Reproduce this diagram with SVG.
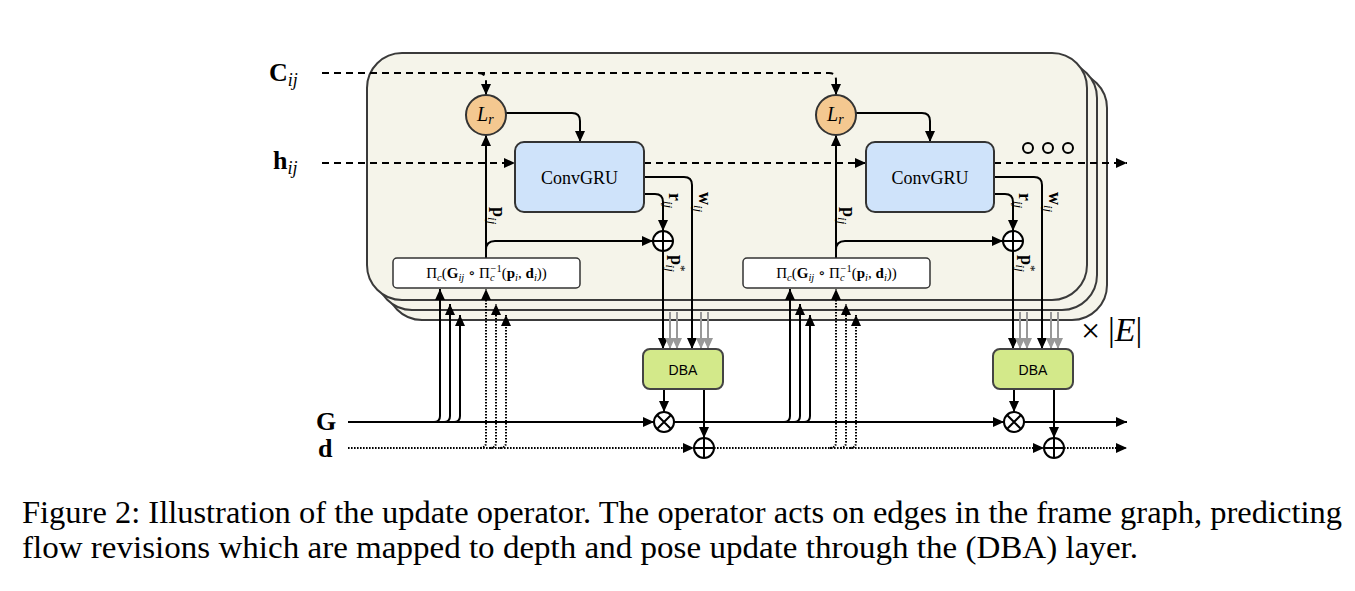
<svg xmlns="http://www.w3.org/2000/svg" width="1355" height="591" viewBox="0 0 1355 591">
<style>
.frame{fill:#f5f4ea;stroke:#3a3a3a;stroke-width:2}
.ln{fill:none;stroke:#000;stroke-width:2}
.dash{fill:none;stroke:#000;stroke-width:2;stroke-dasharray:7 5}
.dot{fill:none;stroke:#000;stroke-width:2;stroke-dasharray:1.6 1.4}
.gray{fill:none;stroke:#999;stroke-width:2}
.math{font-family:"Liberation Serif","DejaVu Serif",serif;fill:#000}
.lr{fill:#f4c890;stroke:#333;stroke-width:2}
.gru{fill:#cfe3fa;stroke:#333;stroke-width:2}
.dba{fill:#d3e98a;stroke:#444;stroke-width:2}
.proj{fill:#fff;stroke:#333;stroke-width:1.5}
.op{fill:#fff;stroke:#000;stroke-width:2}
.sans{font-family:"Liberation Sans",Arial,sans-serif;fill:#000}
</style>
<defs>
<marker id="ah" markerUnits="userSpaceOnUse" markerWidth="11" markerHeight="10" refX="11" refY="5" orient="auto"><path d="M0,0 L11,5 L0,10 z" fill="#000"/></marker>
<marker id="ahg" markerUnits="userSpaceOnUse" markerWidth="11" markerHeight="10" refX="11" refY="5" orient="auto"><path d="M0,0 L11,5 L0,10 z" fill="#999"/></marker>
</defs>

<g id="frames">
<rect class="frame" x="387" y="73" width="720" height="247" rx="35"/>
<rect class="frame" x="377" y="63" width="720" height="247" rx="35"/>
<rect class="frame" x="367" y="53" width="720" height="247" rx="35"/>
</g>

<g id="inputs">
<text class="math" x="269" y="81" font-size="26" font-weight="bold">C<tspan font-size="18" font-style="italic" font-weight="normal" dy="5">ij</tspan></text>
<text class="math" x="273" y="169" font-size="26" font-weight="bold">h<tspan font-size="18" font-style="italic" font-weight="normal" dy="5">ij</tspan></text>
<text class="math" x="316" y="430" font-size="26" font-weight="bold">G</text>
<text class="math" x="318" y="457" font-size="26" font-weight="bold">d</text>
</g>

<g id="connectors">
<!-- C_ij -->
<path class="dash" d="M322,73 H829 Q836,73 836,80 V95" marker-end="url(#ah)"/>
<path class="dash" d="M478,73 Q486,73 486,81 V95" marker-end="url(#ah)"/>
<!-- h_ij -->
<path class="dash" d="M322,163 H515" marker-end="url(#ah)"/>
<path class="dash" d="M644,163 H866" marker-end="url(#ah)"/>
<path class="dash" d="M994,163 H1127" marker-end="url(#ah)"/>
<!-- stage 1 -->
<path class="ln" d="M506,113 H572 Q580,113 580,121 V142" marker-end="url(#ah)"/>
<path class="ln" d="M486,258 V135" marker-end="url(#ah)"/>
<path class="ln" d="M486,250 Q486,241 495,241 H653" marker-end="url(#ah)"/>
<path class="ln" d="M644,177 H684 Q692,177 692,185 V349" marker-end="url(#ah)"/>
<path class="ln" d="M644,194 H655 Q663,194 663,202 V231" marker-end="url(#ah)"/>
<path class="ln" d="M663,251 V349" marker-end="url(#ah)"/>
<path class="gray" d="M670,312 V349" marker-end="url(#ahg)"/>
<path class="gray" d="M677,312 V349" marker-end="url(#ahg)"/>
<path class="gray" d="M701,312 V349" marker-end="url(#ahg)"/>
<path class="gray" d="M708,312 V349" marker-end="url(#ahg)"/>
<path class="ln" d="M664,389 V412" marker-end="url(#ah)"/>
<path class="ln" d="M704,389 V438" marker-end="url(#ah)"/>
<path class="ln" d="M434,422 Q440,422 440,416 V289" marker-end="url(#ah)"/>
<path class="ln" d="M444,422 Q450,422 450,416 V304" marker-end="url(#ah)"/>
<path class="ln" d="M454,422 Q460,422 460,416 V315" marker-end="url(#ah)"/>
<path class="dot" d="M480,448 Q486,448 486,442 V289" marker-end="url(#ah)"/>
<path class="dot" d="M490,448 Q496,448 496,442 V304" marker-end="url(#ah)"/>
<path class="dot" d="M500,448 Q506,448 506,442 V315" marker-end="url(#ah)"/>
<!-- stage 2 -->
<path class="ln" d="M856,113 H922 Q930,113 930,121 V142" marker-end="url(#ah)"/>
<path class="ln" d="M836,258 V135" marker-end="url(#ah)"/>
<path class="ln" d="M836,250 Q836,241 845,241 H1003" marker-end="url(#ah)"/>
<path class="ln" d="M994,177 H1034 Q1042,177 1042,185 V349" marker-end="url(#ah)"/>
<path class="ln" d="M994,194 H1005 Q1013,194 1013,202 V231" marker-end="url(#ah)"/>
<path class="ln" d="M1013,251 V349" marker-end="url(#ah)"/>
<path class="gray" d="M1020,312 V349" marker-end="url(#ahg)"/>
<path class="gray" d="M1027,312 V349" marker-end="url(#ahg)"/>
<path class="gray" d="M1051,312 V349" marker-end="url(#ahg)"/>
<path class="gray" d="M1058,312 V349" marker-end="url(#ahg)"/>
<path class="ln" d="M1014,389 V412" marker-end="url(#ah)"/>
<path class="ln" d="M1054,389 V438" marker-end="url(#ah)"/>
<path class="ln" d="M784,422 Q790,422 790,416 V289" marker-end="url(#ah)"/>
<path class="ln" d="M794,422 Q800,422 800,416 V304" marker-end="url(#ah)"/>
<path class="ln" d="M804,422 Q810,422 810,416 V315" marker-end="url(#ah)"/>
<path class="dot" d="M830,448 Q836,448 836,442 V289" marker-end="url(#ah)"/>
<path class="dot" d="M840,448 Q846,448 846,442 V304" marker-end="url(#ah)"/>
<path class="dot" d="M850,448 Q856,448 856,442 V315" marker-end="url(#ah)"/>
<!-- G and d trunks -->
<path class="ln" d="M348,422 H654" marker-end="url(#ah)"/>
<path class="ln" d="M674,422 H1004" marker-end="url(#ah)"/>
<path class="ln" d="M1024,422 H1127" marker-end="url(#ah)"/>
<path class="dot" d="M348,448 H694" marker-end="url(#ah)"/>
<path class="dot" d="M714,448 H1044" marker-end="url(#ah)"/>
<path class="dot" d="M1064,448 H1127" marker-end="url(#ah)"/>
</g>

<g id="lr1"><circle class="lr" cx="486" cy="115" r="20"/><text class="math" x="477" y="121" font-size="20" font-style="italic">L<tspan font-size="14" dy="3">r</tspan></text></g>
<g id="lr2"><circle class="lr" cx="836" cy="115" r="20"/><text class="math" x="827" y="121" font-size="20" font-style="italic">L<tspan font-size="14" dy="3">r</tspan></text></g>

<g id="gru1"><rect class="gru" x="515" y="142" width="129" height="70" rx="9"/><text class="math" x="579.5" y="184" font-size="18" text-anchor="middle">ConvGRU</text></g>
<g id="gru2"><rect class="gru" x="866" y="142" width="128" height="70" rx="9"/><text class="math" x="930" y="184" font-size="18" text-anchor="middle">ConvGRU</text></g>

<g id="proj1"><rect class="proj" x="393" y="258" width="187" height="30" rx="4"/>
<text class="math" x="486.5" y="278" font-size="15" text-anchor="middle">Π<tspan font-size="10.5" font-style="italic" dy="3">c</tspan><tspan dy="-3">(</tspan><tspan font-weight="bold">G</tspan><tspan font-size="10.5" font-style="italic" dy="3">ij</tspan><tspan dy="-3"> ∘ Π</tspan><tspan font-size="10.5" font-style="italic" dy="3">c</tspan><tspan font-size="10.5" dx="-4" dy="-9">−1</tspan><tspan dy="6">(</tspan><tspan font-weight="bold">p</tspan><tspan font-size="10.5" font-style="italic" dy="3">i</tspan><tspan dy="-3">, </tspan><tspan font-weight="bold">d</tspan><tspan font-size="10.5" font-style="italic" dy="3">i</tspan><tspan dy="-3">))</tspan></text></g>
<g id="proj2"><rect class="proj" x="743" y="258" width="187" height="30" rx="4"/>
<text class="math" x="836.5" y="278" font-size="15" text-anchor="middle">Π<tspan font-size="10.5" font-style="italic" dy="3">c</tspan><tspan dy="-3">(</tspan><tspan font-weight="bold">G</tspan><tspan font-size="10.5" font-style="italic" dy="3">ij</tspan><tspan dy="-3"> ∘ Π</tspan><tspan font-size="10.5" font-style="italic" dy="3">c</tspan><tspan font-size="10.5" dx="-4" dy="-9">−1</tspan><tspan dy="6">(</tspan><tspan font-weight="bold">p</tspan><tspan font-size="10.5" font-style="italic" dy="3">i</tspan><tspan dy="-3">, </tspan><tspan font-weight="bold">d</tspan><tspan font-size="10.5" font-style="italic" dy="3">i</tspan><tspan dy="-3">))</tspan></text></g>

<g id="labels">
<text class="math" transform="translate(493,207) rotate(90)" font-size="18" font-weight="bold">p<tspan font-size="13" font-style="italic" font-weight="normal" dy="5">ij</tspan></text>
<text class="math" transform="translate(669,193) rotate(90)" font-size="18" font-weight="bold">r<tspan font-size="13" font-style="italic" font-weight="normal" dy="5">ij</tspan></text>
<text class="math" transform="translate(699,192) rotate(90)" font-size="18" font-weight="bold">w<tspan font-size="13" font-style="italic" font-weight="normal" dy="5">ij</tspan></text>
<text class="math" transform="translate(671,255) rotate(90)" font-size="18" font-weight="bold">p<tspan font-size="13" font-weight="normal" dy="-6">*</tspan><tspan font-size="13" font-style="italic" font-weight="normal" dx="-7" dy="11">ij</tspan></text>
<text class="math" transform="translate(843,207) rotate(90)" font-size="18" font-weight="bold">p<tspan font-size="13" font-style="italic" font-weight="normal" dy="5">ij</tspan></text>
<text class="math" transform="translate(1019,193) rotate(90)" font-size="18" font-weight="bold">r<tspan font-size="13" font-style="italic" font-weight="normal" dy="5">ij</tspan></text>
<text class="math" transform="translate(1049,192) rotate(90)" font-size="18" font-weight="bold">w<tspan font-size="13" font-style="italic" font-weight="normal" dy="5">ij</tspan></text>
<text class="math" transform="translate(1021,255) rotate(90)" font-size="18" font-weight="bold">p<tspan font-size="13" font-weight="normal" dy="-6">*</tspan><tspan font-size="13" font-style="italic" font-weight="normal" dx="-7" dy="11">ij</tspan></text>
</g>

<g id="ops">
<g id="plus1"><circle class="op" cx="663" cy="241" r="10"/><path class="ln" d="M653,241 H673 M663,231 V251"/></g>
<g id="plus2"><circle class="op" cx="1013" cy="241" r="10"/><path class="ln" d="M1003,241 H1023 M1013,231 V251"/></g>
<g id="times1"><circle class="op" cx="664" cy="422" r="10"/><path class="ln" d="M657,415 L671,429 M671,415 L657,429"/></g>
<g id="times2"><circle class="op" cx="1014" cy="422" r="10"/><path class="ln" d="M1007,415 L1021,429 M1021,415 L1007,429"/></g>
<g id="dplus1"><circle class="op" cx="704" cy="448" r="10"/><path class="ln" d="M694,448 H714 M704,438 V458"/></g>
<g id="dplus2"><circle class="op" cx="1054" cy="448" r="10"/><path class="ln" d="M1044,448 H1064 M1054,438 V458"/></g>
</g>

<g id="dba1"><rect class="dba" x="643" y="349" width="80" height="40" rx="7"/><text class="sans" x="683" y="375" font-size="14" text-anchor="middle">DBA</text></g>
<g id="dba2"><rect class="dba" x="993" y="349" width="80" height="40" rx="7"/><text class="sans" x="1033" y="375" font-size="14" text-anchor="middle">DBA</text></g>

<g id="ellipsis" fill="none" stroke="#000" stroke-width="2">
<circle cx="1028" cy="148" r="5"/><circle cx="1048" cy="148" r="5"/><circle cx="1068" cy="148" r="5"/>
</g>

<g id="times-E">
<text class="math" x="1081" y="342" font-size="34">×</text>
<text class="math" x="1108" y="341" font-size="34">|<tspan font-style="italic">E</tspan>|</text>
</g>

<g id="caption">
<text class="math" x="22" y="523" font-size="32.5" textLength="1320" lengthAdjust="spacingAndGlyphs">Figure 2: Illustration of the update operator. The operator acts on edges in the frame graph, predicting</text>
<text class="math" x="22" y="558" font-size="32.5" textLength="1116" lengthAdjust="spacingAndGlyphs">flow revisions which are mapped to depth and pose update through the (DBA) layer.</text>
</g>
</svg>
